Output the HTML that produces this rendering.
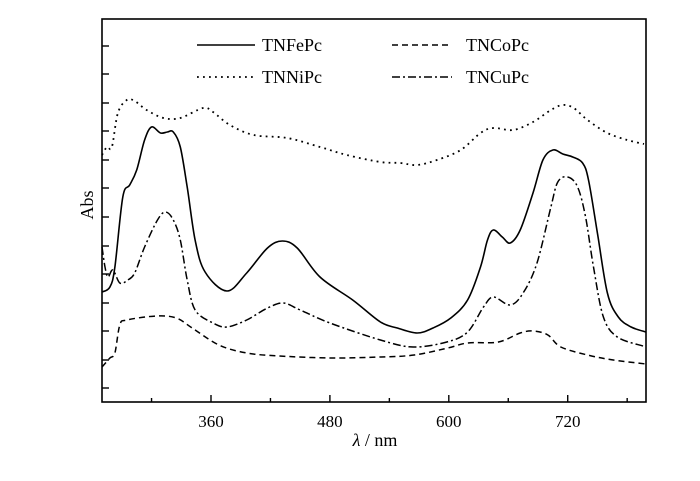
<!DOCTYPE html>
<html><head><meta charset="utf-8">
<style>
html,body{margin:0;padding:0;background:#fff;}
svg{display:block;font-family:"Liberation Serif",serif;}
</style></head>
<body>
<svg id="chart" width="700" height="481" viewBox="0 0 700 481" xmlns="http://www.w3.org/2000/svg">
<g id="marks"></g>
<g id="axes"></g>
<g>
  <line x1="197" y1="45" x2="255" y2="45" stroke="#000" stroke-width="1.6"/>
  <text x="262" y="51" font-size="18">TNFePc</text>
  <line x1="197" y1="77" x2="255" y2="77" stroke="#000" stroke-width="1.8" stroke-dasharray="1.8,4.2"/>
  <text x="262" y="83" font-size="18">TNNiPc</text>
  <line x1="392" y1="45" x2="452" y2="45" stroke="#000" stroke-width="1.5" stroke-dasharray="6,4"/>
  <text x="466" y="51" font-size="18">TNCoPc</text>
  <line x1="392" y1="77" x2="452" y2="77" stroke="#000" stroke-width="1.5" stroke-dasharray="8,3,2,3"/>
  <text x="466" y="83" font-size="18">TNCuPc</text>
</g>
<text x="0" y="0" font-size="18" text-anchor="middle" transform="translate(93,205) rotate(-90)">Abs</text>
<text x="375" y="446" font-size="18" text-anchor="middle"><tspan font-style="italic">λ</tspan> / nm</text>
</svg>
<script>
const xTicksMajor = [360, 480, 600, 720];
const xTicksMinor = [300, 420, 540, 660, 780];
const yTicks = [0.14,0.42,0.71,0.99,1.28,1.56,1.85,2.14,2.42,2.71,2.99,3.28,3.56];

const feNm = [250,258,263,271,278,285,293,300,309,316,322,329,336,344,354,376,396,417,432,447,470,503,531,548,568,584,602,619,632,639,645,654,662,672,685,695,705,715,725,735,741,750,760,771,784,799];
const feAbs = [1.10,1.15,1.35,2.05,2.17,2.32,2.62,2.75,2.69,2.70,2.70,2.55,2.15,1.62,1.30,1.11,1.29,1.54,1.61,1.54,1.25,1.02,0.80,0.74,0.69,0.74,0.84,1.02,1.35,1.62,1.72,1.65,1.59,1.72,2.09,2.42,2.52,2.48,2.45,2.39,2.22,1.69,1.09,0.85,0.75,0.70];

const niNm = [250,255,260,266,275,283,295,312,329,352,362,379,403,437,470,497,531,551,568,588,612,632,645,665,685,703,715,726,740,760,780,797];
const niAbs = [2.47,2.55,2.55,2.89,3.02,3.01,2.92,2.84,2.84,2.94,2.90,2.77,2.67,2.64,2.55,2.47,2.40,2.39,2.37,2.42,2.52,2.69,2.74,2.72,2.80,2.92,2.97,2.94,2.82,2.69,2.62,2.58];

const coNm = [250,258,263,268,275,305,325,341,368,396,429,480,531,565,599,619,650,672,685,700,713,740,766,799];
const coAbs = [0.35,0.44,0.49,0.77,0.82,0.86,0.84,0.74,0.57,0.49,0.46,0.44,0.45,0.47,0.54,0.59,0.60,0.69,0.71,0.67,0.55,0.47,0.42,0.38];

const cuNm = [250,253,256,261,268,276,283,293,306,314,322,329,336,344,362,376,396,417,433,450,480,531,564,598,619,635,645,662,675,689,703,710,720,730,738,746,756,770,796];
const cuAbs = [1.55,1.35,1.25,1.32,1.19,1.22,1.29,1.55,1.82,1.90,1.82,1.62,1.22,0.92,0.79,0.75,0.82,0.94,0.99,0.92,0.79,0.62,0.55,0.60,0.70,0.95,1.05,0.97,1.09,1.39,1.95,2.20,2.25,2.15,1.85,1.35,0.85,0.65,0.56];

const L=102, R=646, T=19, B=402;
const X0=250, X1=799, Y0=0, Y1=3.83;
function xs(v){return L+(v-X0)/(X1-X0)*(R-L);}
function ys(v){return B-(v-Y0)/(Y1-Y0)*(B-T);}
const NS="http://www.w3.org/2000/svg";
const marks=document.getElementById('marks');
const axes=document.getElementById('axes');

function smoothPath(nm, ab){
  const p=nm.map((n,i)=>[xs(n),ys(ab[i])]);
  let d='M'+p[0][0].toFixed(1)+','+p[0][1].toFixed(1);
  for(let i=0;i<p.length-1;i++){
    const p0=p[i-1]||p[i], p1=p[i], p2=p[i+1], p3=p[i+2]||p2;
    const c1=[p1[0]+(p2[0]-p0[0])/6, p1[1]+(p2[1]-p0[1])/6];
    const c2=[p2[0]-(p3[0]-p1[0])/6, p2[1]-(p3[1]-p1[1])/6];
    d+=' C'+c1[0].toFixed(1)+','+c1[1].toFixed(1)+' '+c2[0].toFixed(1)+','+c2[1].toFixed(1)+' '+p2[0].toFixed(1)+','+p2[1].toFixed(1);
  }
  return d;
}
function addSeries(name, nm, ab, dash, w){
  const el=document.createElementNS(NS,'path');
  el.setAttribute('d',smoothPath(nm,ab));
  el.setAttribute('fill','none');
  el.setAttribute('stroke','#000');
  el.setAttribute('stroke-width',w);
  if(dash) el.setAttribute('stroke-dasharray',dash);
  
  
  marks.appendChild(el);
}
addSeries('series-tnfepc', feNm, feAbs, null, 1.6);
addSeries('series-tnnipc', niNm, niAbs, '1.8,4.2', 1.8);
addSeries('series-tncopc', coNm, coAbs, '6,4', 1.5);
addSeries('series-tncupc', cuNm, cuAbs, '8,3,2,3', 1.5);

const frame=document.createElementNS(NS,'rect');
frame.setAttribute('x',L);frame.setAttribute('y',T);
frame.setAttribute('width',R-L);frame.setAttribute('height',B-T);
frame.setAttribute('fill','none');frame.setAttribute('stroke','#000');frame.setAttribute('stroke-width','1.6');


axes.appendChild(frame);

function tick(x1,y1,x2,y2,name){
  const t=document.createElementNS(NS,'line');
  t.setAttribute('x1',x1);t.setAttribute('y1',y1);t.setAttribute('x2',x2);t.setAttribute('y2',y2);
  t.setAttribute('stroke','#000');t.setAttribute('stroke-width','1.4');
  
  
  axes.appendChild(t);
}
xTicksMajor.forEach(v=>{
  const x=xs(v);
  tick(x,B,x,B-7,'x-tick-major');
  const tx=document.createElementNS(NS,'text');
  tx.setAttribute('x',x);tx.setAttribute('y',B+25);
  tx.setAttribute('text-anchor','middle');tx.setAttribute('font-size','17');
  tx.textContent=v;
  
  
  axes.appendChild(tx);
});
xTicksMinor.forEach(v=>{ const x=xs(v); tick(x,B,x,B-4,'x-tick-minor'); });
yTicks.forEach(v=>{ const y=ys(v); tick(L,y,L+7,y,'y-tick'); });
</script>
</body></html>
